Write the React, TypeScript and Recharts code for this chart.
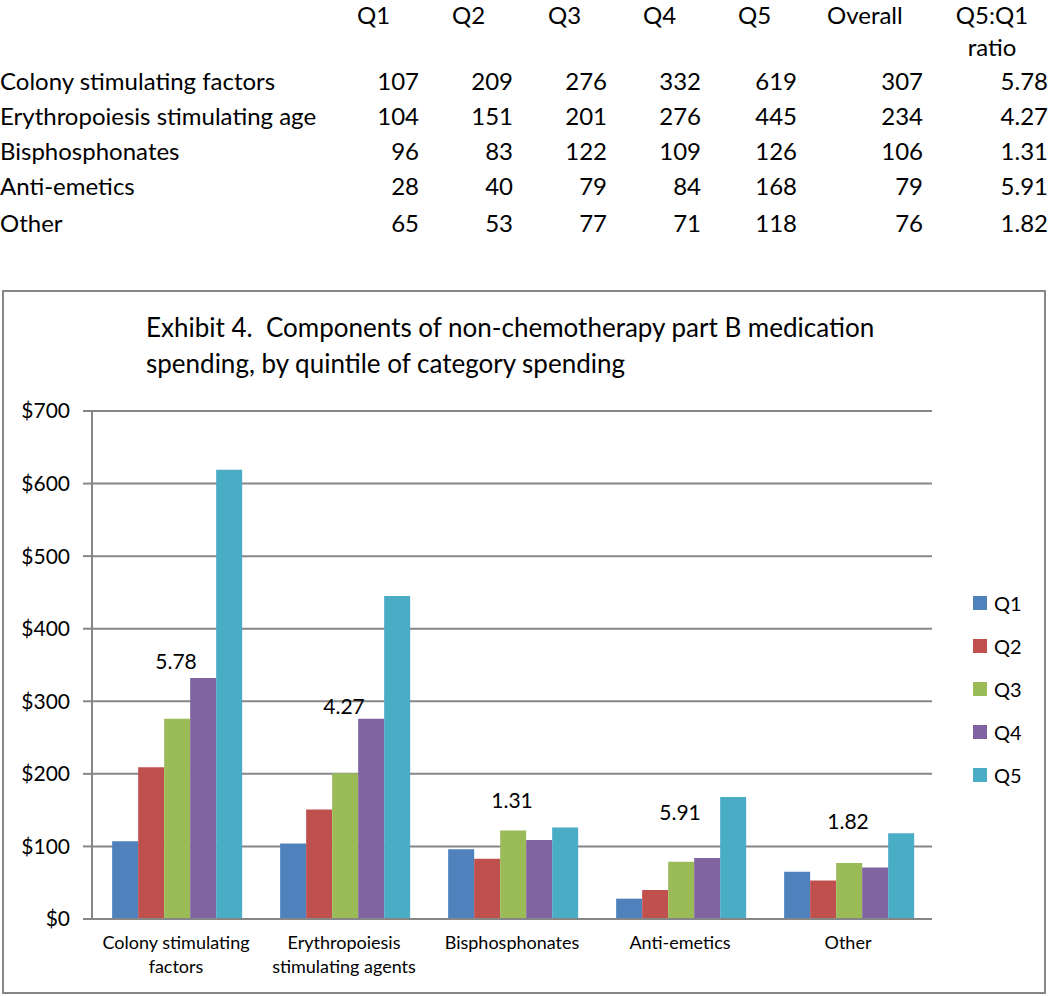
import React from "react";
import { ComposedChart, Bar, Line, XAxis, YAxis, CartesianGrid, Legend, LabelList } from "recharts";

const categories = [
  "Colony stimulating factors",
  "Erythropoiesis stimulating agents",
  "Bisphosphonates",
  "Anti-emetics",
  "Other",
];
const tableLabels = [
  "Colony stimulating factors",
  "Erythropoiesis stimulating age",
  "Bisphosphonates",
  "Anti-emetics",
  "Other",
];
const seriesNames = ["Q1", "Q2", "Q3", "Q4", "Q5"];
const q1 = [107, 104, 96, 28, 65];
const q2 = [209, 151, 83, 40, 53];
const q3 = [276, 201, 122, 79, 77];
const q4 = [332, 276, 109, 84, 71];
const q5 = [619, 445, 126, 168, 118];
const overall = [307, 234, 106, 79, 76];
const ratio = ["5.78", "4.27", "1.31", "5.91", "1.82"];
// height (in $) where each ratio note sits in the picture
const ratioLabelAt = [355, 293, 163, 147, 134];
const yTicks = [0, 100, 200, 300, 400, 500, 600, 700];
const tableHeads = ["Q1", "Q2", "Q3", "Q4", "Q5", "Overall"];

const colors = ["#4F81BD", "#C0504D", "#9BBB59", "#8064A2", "#4BACC6"];
const GRID = "#868686";
const FONT = "Lato, 'Open Sans', sans-serif";

const quintiles = [q1, q2, q3, q4, q5];

const data = categories.map((name, i) => ({
  name,
  Q1: q1[i],
  Q2: q2[i],
  Q3: q3[i],
  Q4: q4[i],
  Q5: q5[i],
  ratio: ratio[i],
  labelAt: ratioLabelAt[i],
}));

function wrap(text: string, max = 18) {
  const lines: string[] = [];
  let cur = "";
  text.split(" ").forEach((w) => {
    if (cur && (cur + " " + w).length > max) {
      lines.push(cur);
      cur = w;
    } else {
      cur = cur ? cur + " " + w : w;
    }
  });
  if (cur) lines.push(cur);
  return lines;
}

function CatTick(props: any) {
  const { x, y, payload } = props;
  const lines = wrap(payload.value);
  return (
    <text x={x} y={y} textAnchor="middle" fontSize={18} fill="#000" fontFamily={FONT}>
      {lines.map((l, i) => (
        <tspan key={i} x={x} dy={i === 0 ? 30 : 24}>
          {l}
        </tspan>
      ))}
    </text>
  );
}

function LegendBox() {
  return (
    <div style={{ fontFamily: FONT, fontSize: 20, color: "#000" }}>
      {seriesNames.map((s, i) => (
        <div key={s} style={{ height: 43, display: "flex", alignItems: "center" }}>
          <span style={{ width: 14, height: 14, background: colors[i], display: "inline-block", marginRight: 7 }} />
          <span>{s}</span>
        </div>
      ))}
    </div>
  );
}

const colLeft = [357, 452, 548, 643, 738, 827];
const colRight = [419, 513, 607, 701, 797, 923];
const ratioRight = 1048;
const ratioHeadCenter = 992;
const rowY = [81, 116, 151, 186, 223];

function Cell({ x, y, align = "left", children }: any) {
  const style: React.CSSProperties = {
    position: "absolute",
    top: y - 14,
    lineHeight: "28px",
    whiteSpace: "nowrap",
  };
  if (align === "right") {
    style.right = 1050 - x;
  } else if (align === "center") {
    style.left = x - 100;
    style.width = 200;
    style.textAlign = "center";
  } else {
    style.left = x;
  }
  return <div style={style}>{children}</div>;
}

export default function App() {
  return (
    <div style={{ position: "absolute", left: 0, top: 0, width: 1050, height: 996, background: "#fff", fontFamily: FONT, color: "#000" }}>
      <div style={{ position: "absolute", left: 0, top: 0, width: 1050, height: 260, fontSize: 24 }}>
        {tableHeads.map((h, j) => (
          <Cell key={h} x={colLeft[j]} y={15}>
            {h}
          </Cell>
        ))}
        <Cell x={ratioHeadCenter} y={15} align="center">
          Q5:Q1
        </Cell>
        <Cell x={ratioHeadCenter} y={47} align="center">
          ratio
        </Cell>
        {tableLabels.map((lab, i) => (
          <React.Fragment key={lab}>
            <Cell x={0} y={rowY[i]}>
              {lab}
            </Cell>
            {quintiles.map((q, j) => (
              <Cell key={j} x={colRight[j]} y={rowY[i]} align="right">
                {q[i]}
              </Cell>
            ))}
            <Cell x={colRight[5]} y={rowY[i]} align="right">
              {overall[i]}
            </Cell>
            <Cell x={ratioRight} y={rowY[i]} align="right">
              {ratio[i]}
            </Cell>
          </React.Fragment>
        ))}
      </div>

      <div
        style={{
          position: "absolute",
          left: 2,
          top: 290,
          width: 1044,
          height: 704,
          border: `2px solid ${GRID}`,
          boxSizing: "border-box",
        }}
      />
      <div style={{ position: "absolute", left: 146, top: 309, fontSize: 26, lineHeight: "36px", whiteSpace: "pre" }}>
        {"Exhibit 4.  Components of non-chemotherapy part B medication\nspending, by quintile of category spending"}
      </div>

      <div style={{ position: "absolute", left: 0, top: 290 }}>
        <ComposedChart
          width={1046}
          height={704}
          data={data}
          margin={{ top: 121, right: 114, bottom: 0, left: 0 }}
          barCategoryGap="12%"
          barGap={0}
        >
          <CartesianGrid vertical={false} stroke={GRID} strokeWidth={2} />
          <XAxis
            xAxisId="edge"
            type="number"
            domain={[0, 5]}
            ticks={[0, 1, 2, 3, 4, 5]}
            height={1}
            tick={false}
            axisLine={false}
            tickSize={8}
            tickLine={{ stroke: GRID, strokeWidth: 2 }}
          />
          <XAxis
            xAxisId="cat"
            dataKey="name"
            interval={0}
            height={74}
            tickLine={false}
            tickSize={0}
            tickMargin={0}
            axisLine={{ stroke: GRID, strokeWidth: 2 }}
            tick={<CatTick />}
          />
          <YAxis
            domain={[0, 700]}
            ticks={yTicks}
            width={92}
            tickSize={9}
            tickMargin={13}
            tickFormatter={(v: number) => `$${v}`}
            axisLine={{ stroke: GRID, strokeWidth: 2 }}
            tickLine={{ stroke: GRID, strokeWidth: 2 }}
            tick={{ fill: "#000", fontSize: 21, fontFamily: FONT }}
          />
          <Legend
            layout="vertical"
            align="center"
            verticalAlign="middle"
            content={<LegendBox />}
            wrapperStyle={{ left: 973, top: 291, width: 70 }}
          />
          {seriesNames.map((s, i) => (
            <Bar key={s} xAxisId="cat" dataKey={s} fill={colors[i]} isAnimationActive={false} />
          ))}
          <Line
            xAxisId="cat"
            dataKey="labelAt"
            stroke="none"
            dot={false}
            activeDot={false}
            legendType="none"
            isAnimationActive={false}
          >
            <LabelList dataKey="ratio" position="center" fill="#000" fontSize={21} fontFamily={FONT} />
          </Line>
        </ComposedChart>
      </div>
    </div>
  );
}
